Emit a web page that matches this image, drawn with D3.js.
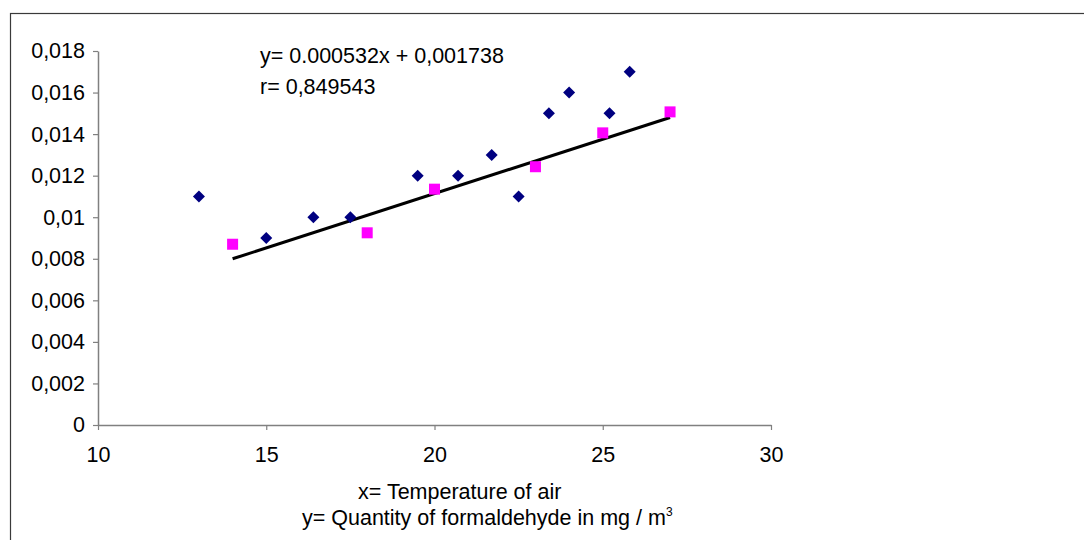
<!DOCTYPE html>
<html>
<head>
<meta charset="utf-8">
<script src="https://cdn.jsdelivr.net/npm/d3@7"></script>
<style>
  html, body { margin: 0; padding: 0; background: #fff; }
  svg { display: block; font-family: "Liberation Sans", Arial, sans-serif; }
</style>
</head>
<body>
<svg id="chart" width="1084" height="540"></svg>
<script>
// ---- data ----
const seriesAX = [13, 15, 16.4, 17.5, 19.5, 20.7, 21.7, 22.5, 23.4, 24, 25.2, 25.8];
const seriesAY = [0.011, 0.009, 0.010, 0.010, 0.012, 0.012, 0.013, 0.011, 0.015, 0.016, 0.015, 0.017];
const seriesBX = [14, 18, 20, 23, 25, 27];
const seriesBY = [0.0087, 0.00925, 0.01135, 0.01243, 0.01406, 0.01507];
const trendX = [14, 27];
const trendY = [0.0080, 0.0148];
const xTicks = [10, 15, 20, 25, 30];
const yTicks = [0, 0.002, 0.004, 0.006, 0.008, 0.010, 0.012, 0.014, 0.016, 0.018];
const yTickLabels = ["0", "0,002", "0,004", "0,006", "0,008", "0,01", "0,012", "0,014", "0,016", "0,018"];
const equationText = "y= 0.000532x + 0,001738";
const rText = "r= 0,849543";
const xTitle = "x= Temperature of air";
const yTitle = "y= Quantity of formaldehyde in mg / m";

// ---- layout ----
const FS = 21.5;
const FONT = "Liberation Sans, Arial, sans-serif";
const svg = d3.select("#chart");
const plotLeft = 98, plotRight = 771, plotTop = 51, plotBottom = 425;

const x = d3.scaleLinear().domain([10, 30]).range([plotLeft, plotRight]);
const y = d3.scaleLinear().domain([0, 0.018]).range([plotBottom, plotTop]);

// outer border
svg.append("rect")
  .attr("x", 10.5).attr("y", 13.5)
  .attr("width", 1100).attr("height", 600)
  .attr("fill", "none").attr("stroke", "#3a3a3a").attr("stroke-width", 1.2);

// y axis
const yAxis = d3.axisLeft(y).tickValues(yTicks)
  .tickFormat((d, i) => yTickLabels[i]).tickSize(5).tickSizeOuter(0).tickPadding(8);
const gy = svg.append("g").attr("transform", `translate(${plotLeft},0)`).call(yAxis);
gy.attr("font-size", FS).attr("font-family", FONT);
gy.select(".domain").attr("stroke", "#808080").attr("stroke-width", 1.5);
gy.selectAll(".tick line").attr("stroke", "#808080").attr("stroke-width", 1.2);
gy.selectAll(".tick text").attr("fill", "#000");

// x axis
const xAxis = d3.axisBottom(x).tickValues(xTicks).tickSize(5).tickSizeOuter(0).tickPadding(17);
const gx = svg.append("g").attr("transform", `translate(0,${plotBottom})`).call(xAxis);
gx.attr("font-size", FS).attr("font-family", FONT);
gx.select(".domain").attr("stroke", "#808080").attr("stroke-width", 1.5);
gx.selectAll(".tick line").attr("stroke", "#808080").attr("stroke-width", 1.2);
gx.selectAll(".tick text").attr("fill", "#000");

// trend line
svg.append("line")
  .attr("x1", x(trendX[0])).attr("y1", y(trendY[0]))
  .attr("x2", x(trendX[1])).attr("y2", y(trendY[1]))
  .attr("stroke", "#000").attr("stroke-width", 3);

// series A: navy diamonds
const dataA = seriesAX.map((v, i) => ({ x: v, y: seriesAY[i] }));
svg.append("g").selectAll("path").data(dataA).join("path")
  .attr("d", "M0,-6L6,0L0,6L-6,0Z")
  .attr("transform", d => `translate(${x(d.x)},${y(d.y)})`)
  .attr("fill", "#000080");

// series B: magenta squares
const dataB = seriesBX.map((v, i) => ({ x: v, y: seriesBY[i] }));
svg.append("g").selectAll("rect").data(dataB).join("rect")
  .attr("x", d => x(d.x) - 5.5).attr("y", d => y(d.y) - 5.5)
  .attr("width", 11).attr("height", 11)
  .attr("fill", "#FF00FF");

// equation labels
svg.append("text").attr("x", 260).attr("y", 63).attr("font-size", FS).attr("font-family", FONT).text(equationText);
svg.append("text").attr("x", 260).attr("y", 94).attr("font-size", FS).attr("font-family", FONT).text(rText);

// axis titles
svg.append("text").attr("x", 358).attr("y", 499)
  .attr("font-size", FS).attr("font-family", FONT).text(xTitle);
const t2 = svg.append("text").attr("x", 302).attr("y", 525)
  .attr("font-size", FS).attr("font-family", FONT);
t2.append("tspan").text(yTitle);
t2.append("tspan").attr("dy", -9).attr("font-size", 12).text("3");
</script>
</body>
</html>
